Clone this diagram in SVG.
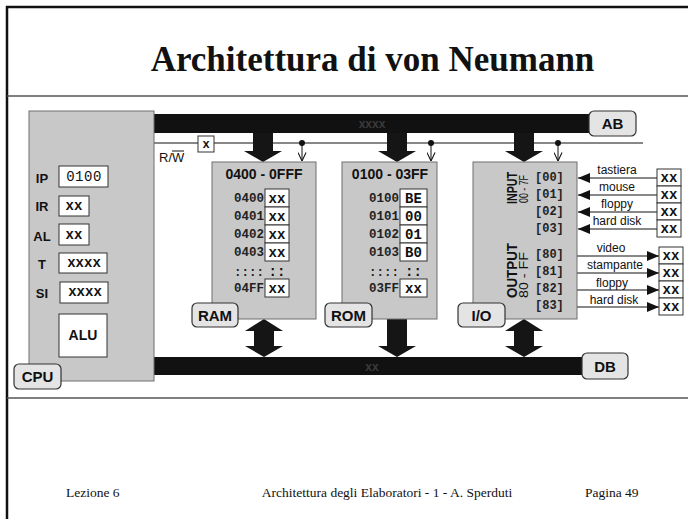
<svg xmlns="http://www.w3.org/2000/svg" width="688" height="519" viewBox="0 0 688 519">
<defs>
<style>
.unit{fill:#c8c8c8;stroke:#6e6e6e;stroke-width:1}
.tag{fill:#e4e4e4;stroke:#333;stroke-width:1.2}
.tagt{font-family:"Liberation Sans",Arial,sans-serif;font-weight:bold;font-size:15px;fill:#111;text-anchor:middle}
.reg{fill:#fff;stroke:#333;stroke-width:1}
.lbl{font-family:"Liberation Sans",Arial,sans-serif;font-weight:bold;font-size:13px;fill:#111;text-anchor:middle}
.ttl{font-family:"Liberation Sans",Arial,sans-serif;font-weight:bold;font-size:14px;fill:#111;text-anchor:middle}
.mono{font-family:"Liberation Mono","Courier New",monospace;font-weight:bold;fill:#111}
.addr{font-family:"Liberation Mono","Courier New",monospace;font-weight:bold;font-size:12.5px;fill:#222;text-anchor:end}
.val{font-family:"Liberation Mono","Courier New",monospace;font-weight:bold;font-size:14px;fill:#111;text-anchor:middle}
.port{font-family:"Liberation Mono","Courier New",monospace;font-weight:bold;font-size:12px;fill:#222}
.bar{fill:#111}
.big{fill:#151515}
.dev{font-family:"Liberation Sans",Arial,sans-serif;font-size:12px;fill:#111;text-anchor:middle}
.wire{stroke:#111;stroke-width:1;fill:none}
.frame{stroke:#111;stroke-width:2.5;fill:none}
.sep{stroke:#555;stroke-width:1.5;fill:none}
.serif{font-family:"Liberation Serif","Times New Roman",serif;fill:#111}
.rot{font-family:"Liberation Sans",Arial,sans-serif;fill:#111}
</style>
<marker id="open" viewBox="0 0 10 10" refX="9.5" refY="5" markerWidth="9" markerHeight="9" markerUnits="userSpaceOnUse" orient="auto">
<path d="M0,0.5 L9.5,5 L0,9.5" fill="none" stroke="#111" stroke-width="1.2"/>
</marker>
<marker id="tri" viewBox="0 0 12 10" refX="12" refY="5" markerWidth="12" markerHeight="10" markerUnits="userSpaceOnUse" orient="auto">
<path d="M0,0 L12,5 L0,10 Z" fill="#111"/>
</marker>
</defs>

<rect x="0" y="0" width="688" height="519" fill="#fff"/>

<g id="frame">
<line class="frame" x1="6" y1="7" x2="688" y2="7"/>
<line class="frame" x1="7" y1="6" x2="7" y2="519"/>
<line class="sep" x1="7" y1="96" x2="688" y2="96"/>
<line class="sep" x1="7" y1="398" x2="688" y2="398"/>
<text class="serif" x="372.5" y="71" font-size="35" font-weight="bold" text-anchor="middle">Architettura di von Neumann</text>
<text class="serif" x="66" y="497" font-size="13.5">Lezione 6</text>
<text class="serif" x="387" y="497" font-size="13.5" text-anchor="middle">Architettura degli Elaboratori - 1 - A. Sperduti</text>
<text class="serif" x="585" y="497" font-size="13.5">Pagina 49</text>
</g>

<g id="buses">
<rect class="bar" x="154" y="114" width="440" height="19"/>
<text x="372" y="128" font-family="Liberation Sans,Arial,sans-serif" font-weight="bold" font-size="12" fill="#3a3a3a" text-anchor="middle">xxxx</text>
<rect class="bar" x="154" y="357" width="432" height="18"/>
<text x="372" y="371" font-family="Liberation Sans,Arial,sans-serif" font-weight="bold" font-size="12" fill="#3a3a3a" text-anchor="middle">xx</text>
</g>

<g id="connectors">
<line class="wire" x1="154" y1="143" x2="643" y2="143"/>
<circle cx="302" cy="143" r="3" fill="#111"/>
<circle cx="431" cy="143" r="3" fill="#111"/>
<circle cx="558" cy="143" r="3" fill="#111"/>
<line class="wire" x1="302" y1="143" x2="302" y2="161" marker-end="url(#open)"/>
<line class="wire" x1="431" y1="143" x2="431" y2="161" marker-end="url(#open)"/>
<line class="wire" x1="558" y1="143" x2="558" y2="161" marker-end="url(#open)"/>
<path class="big" d="M253,133 H273 V151 H282 L263,162 L244,151 H253 Z"/>
<path class="big" d="M387,133 H407 V151 H416 L397,162 L378,151 H387 Z"/>
<path class="big" d="M514,133 H534 V151 H543 L524,162 L505,151 H514 Z"/>
<path class="big" d="M264,319 L283,331 H274 V346 H283 L264,357 L245,346 H254 V331 H245 Z"/>
<path class="big" d="M387,319 H407 V346 H416 L397,357 L378,346 H387 Z"/>
<path class="big" d="M524,319 L543,331 H534 V346 H543 L524,357 L505,346 H514 V331 H505 Z"/>
<line class="wire" x1="657" y1="178" x2="578" y2="178" marker-end="url(#tri)"/>
<line class="wire" x1="657" y1="195" x2="578" y2="195" marker-end="url(#tri)"/>
<line class="wire" x1="657" y1="212" x2="578" y2="212" marker-end="url(#tri)"/>
<line class="wire" x1="657" y1="229" x2="578" y2="229" marker-end="url(#tri)"/>
<line class="wire" x1="577" y1="256" x2="659" y2="256" marker-end="url(#tri)"/>
<line class="wire" x1="577" y1="273" x2="659" y2="273" marker-end="url(#tri)"/>
<line class="wire" x1="577" y1="290" x2="659" y2="290" marker-end="url(#tri)"/>
<line class="wire" x1="577" y1="307" x2="659" y2="307" marker-end="url(#tri)"/>
<text class="dev" x="617" y="174">tastiera</text>
<text class="dev" x="617" y="191">mouse</text>
<text class="dev" x="617" y="208">floppy</text>
<text class="dev" x="617" y="225">hard disk</text>
<text class="dev" x="611" y="252">video</text>
<text class="dev" x="615" y="269">stampante</text>
<text class="dev" x="612" y="287">floppy</text>
<text class="dev" x="614" y="304">hard disk</text>
</g>

<g id="rw">
<rect class="reg" x="198" y="136" width="16" height="16"/>
<text class="mono" x="206" y="148" font-size="12" text-anchor="middle">x</text>
<text x="159" y="162" font-family="Liberation Sans,Arial,sans-serif" font-size="13" fill="#111">R/W</text>
<line x1="172" y1="151" x2="184" y2="151" stroke="#111" stroke-width="1"/>
</g>

<g id="cpu">
<rect class="unit" x="29" y="111" width="125" height="270"/>
<text class="lbl" x="42" y="183">IP</text>
<text class="lbl" x="42" y="211">IR</text>
<text class="lbl" x="42" y="241">AL</text>
<text class="lbl" x="42" y="269">T</text>
<text class="lbl" x="42" y="298">SI</text>
<rect class="reg" x="59" y="166" width="49" height="21"/>
<text x="84" y="181" font-family="Liberation Mono,Courier New,monospace" font-size="14" fill="#111" text-anchor="middle" letter-spacing="0.5">0100</text>
<rect class="reg" x="59" y="196" width="30" height="20"/>
<text class="val" x="74" y="210">xx</text>
<rect class="reg" x="59" y="224" width="30" height="21"/>
<text class="val" x="74" y="239">xx</text>
<rect class="reg" x="59" y="253" width="48" height="20"/>
<text class="val" x="84" y="267">xxxx</text>
<rect class="reg" x="60" y="282" width="48" height="21"/>
<text class="val" x="85" y="296">xxxx</text>
<rect class="reg" x="59" y="314" width="48" height="43"/>
<text class="ttl" x="83" y="340">ALU</text>
<rect class="tag" x="14" y="364" width="47" height="25" rx="5"/>
<text class="tagt" x="37.5" y="382">CPU</text>
</g>

<g id="ram">
<rect class="unit" x="212" y="162" width="104" height="157"/>
<text class="ttl" x="264" y="179">0400 - 0FFF</text>
<rect class="reg" x="265" y="189" width="24" height="18"/>
<rect class="reg" x="265" y="207" width="24" height="18"/>
<rect class="reg" x="265" y="225" width="24" height="18"/>
<rect class="reg" x="265" y="243" width="24" height="18"/>
<rect class="reg" x="265" y="279" width="24" height="18"/>
<text class="addr" x="264" y="202">0400</text>
<text class="addr" x="264" y="220">0401</text>
<text class="addr" x="264" y="238">0402</text>
<text class="addr" x="264" y="256">0403</text>
<text class="addr" x="264" y="276">::::</text>
<text class="addr" x="264" y="292">04FF</text>
<text class="val" x="277" y="203">xx</text>
<text class="val" x="277" y="221">xx</text>
<text class="val" x="277" y="239">xx</text>
<text class="val" x="277" y="257">xx</text>
<text class="val" x="277" y="276">::</text>
<text class="val" x="277" y="293">xx</text>
<rect class="tag" x="192" y="303" width="46" height="24" rx="5"/>
<text class="tagt" x="215" y="321">RAM</text>
</g>

<g id="rom">
<rect class="unit" x="342" y="162" width="95" height="157"/>
<text class="ttl" x="390" y="179">0100 - 03FF</text>
<rect class="reg" x="400" y="189" width="27" height="18"/>
<rect class="reg" x="400" y="207" width="27" height="18"/>
<rect class="reg" x="400" y="225" width="27" height="18"/>
<rect class="reg" x="400" y="243" width="27" height="18"/>
<rect class="reg" x="400" y="279" width="27" height="18"/>
<text class="addr" x="399" y="202">0100</text>
<text class="addr" x="399" y="220">0101</text>
<text class="addr" x="399" y="238">0102</text>
<text class="addr" x="399" y="256">0103</text>
<text class="addr" x="399" y="276">::::</text>
<text class="addr" x="399" y="292">03FF</text>
<text class="val" x="413.5" y="203" font-size="15">BE</text>
<text class="val" x="413.5" y="221" font-size="15">00</text>
<text class="val" x="413.5" y="239" font-size="15">01</text>
<text class="val" x="413.5" y="257" font-size="15">B0</text>
<text class="val" x="413.5" y="276">::</text>
<text class="val" x="413.5" y="293">xx</text>
<rect class="tag" x="325" y="303" width="47" height="24" rx="5"/>
<text class="tagt" x="348.5" y="321">ROM</text>
</g>

<g id="io">
<rect class="unit" x="473" y="162" width="104" height="157"/>
<text class="rot" x="517" y="204" transform="rotate(-90 517 204)" font-weight="bold" font-size="14" textLength="32" lengthAdjust="spacingAndGlyphs">INPUT</text>
<text class="rot" x="528" y="203" transform="rotate(-90 528 203)" font-size="13" textLength="28" lengthAdjust="spacingAndGlyphs">00 - 7F</text>
<text class="rot" x="517" y="298" transform="rotate(-90 517 298)" font-weight="bold" font-size="14" textLength="55" lengthAdjust="spacingAndGlyphs">OUTPUT</text>
<text class="rot" x="528" y="298" transform="rotate(-90 528 298)" font-size="13" textLength="46" lengthAdjust="spacingAndGlyphs">80 - FF</text>
<text class="port" x="535" y="181">[00]</text>
<text class="port" x="535" y="198">[01]</text>
<text class="port" x="535" y="215">[02]</text>
<text class="port" x="535" y="232">[03]</text>
<text class="port" x="535" y="258">[80]</text>
<text class="port" x="535" y="275">[81]</text>
<text class="port" x="535" y="292">[82]</text>
<text class="port" x="535" y="309">[83]</text>
<rect class="tag" x="458" y="303" width="47" height="24" rx="5"/>
<text class="tagt" x="481.5" y="321">I/O</text>
</g>

<g id="devices">
<rect class="reg" x="657" y="169" width="24" height="17"/>
<rect class="reg" x="657" y="186" width="24" height="17"/>
<rect class="reg" x="657" y="203" width="24" height="17"/>
<rect class="reg" x="657" y="220" width="24" height="17"/>
<rect class="reg" x="659" y="247" width="24" height="17"/>
<rect class="reg" x="659" y="264" width="24" height="17"/>
<rect class="reg" x="659" y="281" width="24" height="17"/>
<rect class="reg" x="659" y="298" width="24" height="17"/>
<text class="val" x="669" y="182" font-size="13">xx</text>
<text class="val" x="669" y="199" font-size="13">xx</text>
<text class="val" x="669" y="216" font-size="13">xx</text>
<text class="val" x="669" y="233" font-size="13">xx</text>
<text class="val" x="671" y="260" font-size="13">xx</text>
<text class="val" x="671" y="277" font-size="13">xx</text>
<text class="val" x="671" y="294" font-size="13">xx</text>
<text class="val" x="671" y="311" font-size="13">xx</text>
</g>

<g id="ab-tag">
<rect class="tag" x="589" y="111" width="47" height="25" rx="5"/>
<text class="tagt" x="612.5" y="129" font-size="16">AB</text>
</g>
<g id="db-tag">
<rect class="tag" x="582" y="353" width="46" height="26" rx="5"/>
<text class="tagt" x="605" y="372" font-size="16">DB</text>
</g>
</svg>
